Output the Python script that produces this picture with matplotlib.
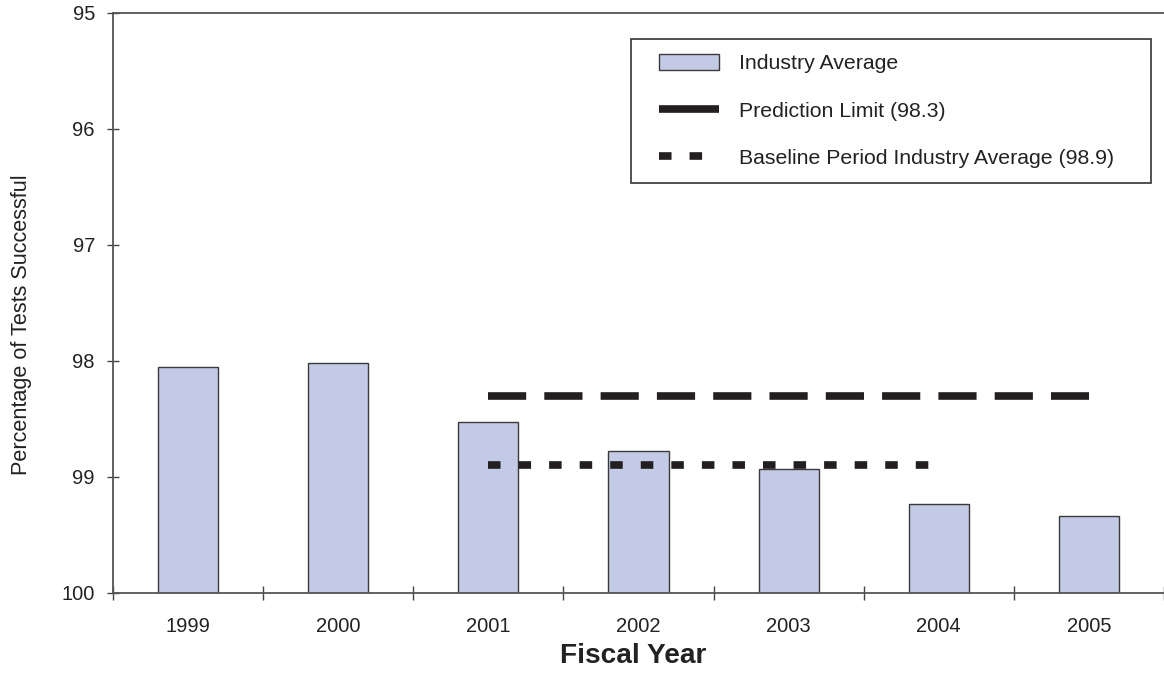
"""Industry average percentage of tests successful by fiscal year (inverted scale)."""
import numpy as np
import matplotlib
matplotlib.use('Agg')
import matplotlib.pyplot as plt
from matplotlib.lines import Line2D
from matplotlib.legend_handler import HandlerPatch, HandlerLine2D

plt.rcParams['font.family'] = ['Liberation Sans', 'DejaVu Sans']

years = ['1999', '2000', '2001', '2002', '2003', '2004', '2005']
industry_avg = [98.05, 98.02, 98.53, 98.78, 98.93, 99.23, 99.34]
prediction_years = ['2001', '2002', '2003', '2004', '2005']
prediction_limit = 98.3
baseline_years = ['2001', '2002', '2003', '2004']
baseline_avg = 98.9

bar_color = '#C3CAE5'
dark = '#231F20'

fig = plt.figure(figsize=(11.64, 6.73), dpi=100)
ax = fig.add_axes([113/1164, 1-593/673, 1-113/1164, (593-13)/673])

x = np.arange(len(years))
vals = np.array(industry_avg)
ax.bar(x, vals - 100, bottom=100, width=0.4, color=bar_color,
       edgecolor='#3a3a3a', linewidth=1.0, label='Industry Average', zorder=2)

# dash patterns in units of line width (lw 5.5pt ~ 7.64px)
px = [years.index(y) for y in prediction_years]
ax.plot(px, [prediction_limit]*len(px), color=dark, lw=5.5,
        dashes=(5.0, 2.37), dash_capstyle='butt', zorder=3)
bx = [years.index(y) for y in baseline_years]
bl, = ax.plot(bx, [baseline_avg]*len(bx), color=dark, lw=5.5,
              dashes=(1.64, 2.36), dash_capstyle='butt', zorder=3)

ax.set_xlim(-0.5, len(years) - 0.5)
ax.set_ylim(100, 95)
ax.set_yticks([95, 96, 97, 98, 99, 100])
ax.set_xticks(np.arange(len(years) + 1) - 0.5)
ax.set_xticklabels([])
ax.set_xticks(x, minor=True)
ax.set_xticklabels(years, minor=True)
ax.tick_params(axis='x', which='major', direction='inout', length=10, width=1, color='#444')
ax.tick_params(axis='x', which='minor', length=0, pad=17, labelsize=14.5, labelcolor='#222')
ax.tick_params(axis='y', direction='inout', length=8, width=1, color='#444', pad=9,
               labelsize=14.5, labelcolor='#222')

for s in ['left', 'top', 'bottom']:
    ax.spines[s].set_color('#555')
    ax.spines[s].set_linewidth(1.3)
ax.spines['right'].set_visible(False)

fig.text(22/1164, 1-325/673, 'Percentage of Tests Successful', rotation=90,
         ha='center', va='center', fontsize=15.6, color='#222')
fig.text(633/1164, 1-656/673, 'Fiscal Year', ha='center', va='center',
         fontsize=20.2, fontweight='bold', color='#222')

handles = [ax.patches[0],
           Line2D([], [], color=dark, lw=5.5, solid_capstyle='butt'),
           bl]
labels = ['Industry Average', 'Prediction Limit (98.3)',
          'Baseline Period Industry Average (98.9)']
leg = ax.legend(handles, labels, loc='upper left', mode='expand',
                bbox_to_anchor=(631/1164, 1-180/673, 520/1164, 141/673),
                bbox_transform=fig.transFigure, borderaxespad=0,
                fontsize=15.3, handlelength=3.44, handleheight=0.8,
                handletextpad=0.94, labelspacing=1.31, borderpad=0.7,
                fancybox=False, framealpha=1, edgecolor='#333',
                handler_map={ax.patches[0]: HandlerPatch(xpad=0.62),
                             Line2D: HandlerLine2D(xpad=0.62)})
leg.get_frame().set_linewidth(1.2)
for t in leg.get_texts():
    t.set_color('#222')

fig.savefig('out.png', dpi=100)
